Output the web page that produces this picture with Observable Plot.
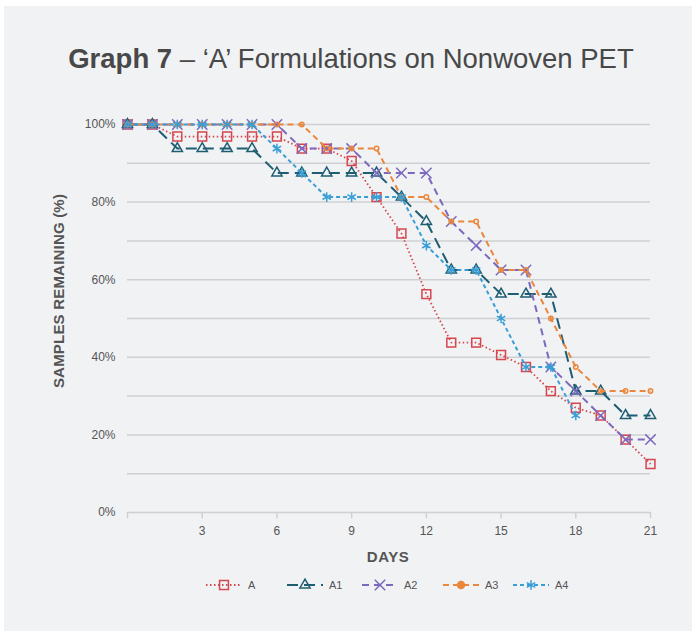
<!DOCTYPE html>
<html>
<head>
<meta charset="utf-8">
<script src="https://cdn.jsdelivr.net/npm/d3@7"></script>
<script src="https://cdn.jsdelivr.net/npm/@observablehq/plot@0.6"></script>
<style>
  html, body { margin: 0; padding: 0; background: #ffffff; }
  body { width: 692px; height: 631px; position: relative; overflow: hidden;
         font-family: "Liberation Sans", Arial, Helvetica, sans-serif; }
  #panel { position: absolute; left: 4px; top: 6px; right: 0; bottom: 0; background: #f1f2f4; }
  #title { position: absolute; left: 0; width: 702px; top: 43px; text-align: center;
           font-size: 27.5px; color: #484848; white-space: nowrap; }
  #title b { font-weight: bold; }
  #chart { position: absolute; left: 0; top: 100px; }
  #ylab { position: absolute; left: 58px; top: 291px; transform: translate(-50%, -50%) rotate(-90deg);
          font-size: 15px; font-weight: bold; color: #555; white-space: nowrap; letter-spacing: 0.2px; }
  #xlab { position: absolute; left: 388px; top: 556px; transform: translate(-50%, -50%);
          font-size: 15px; font-weight: bold; color: #555; letter-spacing: 0.5px; }
  .leg { position: absolute; top: 578px; height: 14px; display: flex; align-items: center;
         font-size: 11px; color: #555; }
  .leg svg { margin-right: 6px; }
</style>
</head>
<body>
<div id="panel"></div>
<div id="title"><b>Graph 7</b> – ‘A’ Formulations on Nonwoven PET</div>
<div id="chart"></div>
<div id="ylab">SAMPLES REMAINING (%)</div>
<div id="xlab">DAYS</div>
<div id="legend"></div>
<script>
// ---- data ----
const seriesNames = ["A", "A1", "A2", "A3", "A4"];
const days = [0,1,2,3,4,5,6,7,8,9,10,11,12,13,14,15,16,17,18,19,20,21];
const valuesA  = [100,100,96.9,96.9,96.9,96.9,96.9,93.8,93.8,90.6,81.3,71.9,56.3,43.8,43.8,40.6,37.5,31.3,27,25,18.8,12.5];
const valuesA1 = [100,100,93.8,93.8,93.8,93.8,87.5,87.5,87.5,87.5,87.5,81.3,75,62.5,62.5,56.3,56.3,56.3,31.3,31.3,25,25];
const valuesA2 = [100,100,100,100,100,100,100,93.8,93.8,93.8,87.5,87.5,87.5,75,68.8,62.5,62.5,37.5,31.3,25,18.8,18.8];
const valuesA3 = [100,100,100,100,100,100,100,100,93.8,93.8,93.8,81.3,81.3,75,75,62.5,62.5,50,37.5,31.3,31.3,31.3];
const valuesA4 = [100,100,100,100,100,100,93.8,87.5,81.3,81.3,81.3,81.3,68.8,62.5,62.5,50,37.5,37.5,25];
const yTickValues = [0,20,40,60,80,100];
const yGridValues = [10,20,30,40,50,60,70,80,90,100];
const xTickValues = [0,3,6,9,12,15,18,21];

// ---- styles ----
const styles = {
  A:  {color: "#d5464e", dash: "1.5,2.5", width: 1.8, symbol: "square",   r: 5,   fill: "none"},
  A1: {color: "#1f5e72", dash: "11,6",    width: 2,   symbol: "triangle", r: 3.8, fill: "none"},
  A2: {color: "#7c69bd", dash: "7,5",     width: 2,   symbol: "times",    r: 4.8, fill: "none"},
  A3: {color: "#ea873c", dash: "6,4",     width: 2,   symbol: "circle",   r: 2.2, fill: "none"},
  A4: {color: "#3a9ed6", dash: "4,3",     width: 2,   symbol: "asterisk", r: 4.6, fill: "none"}
};

const allValues = {A: valuesA, A1: valuesA1, A2: valuesA2, A3: valuesA3, A4: valuesA4};
const rows = [];
for (const s of seriesNames) {
  allValues[s].forEach((v, i) => rows.push({series: s, day: days[i], value: v}));
}

const marks = [
  Plot.ruleY(yGridValues, {stroke: "#cfd0d3", strokeWidth: 1.5}),
  Plot.ruleY([0], {stroke: "#cfd0d3", strokeWidth: 1.5}),
  Plot.ruleX(xTickValues, {x: d => d, y1: 0, y2: -1.6, stroke: "#cfd0d3", strokeWidth: 1.5}),
  Plot.axisY({ticks: yTickValues, tickFormat: d => d + "%", tickSize: 0, tickPadding: 12,
              fontSize: 12, color: "#555", label: null}),
  Plot.axisX({ticks: xTickValues, tickFormat: d => d === 0 ? "" : String(d), tickSize: 0,
              tickPadding: 14, fontSize: 12, color: "#555", label: null})
];
for (const s of seriesNames) {
  const st = styles[s];
  const data = rows.filter(d => d.series === s);
  marks.push(Plot.line(data, {x: "day", y: "value", stroke: st.color, strokeWidth: st.width,
                              strokeDasharray: st.dash, strokeLinecap: "butt"}));
  marks.push(Plot.dot(data, {x: "day", y: "value", symbol: st.symbol, r: st.r,
                             stroke: st.color, fill: st.fill, strokeWidth: 1.5}));
}

const chart = Plot.plot({
  width: 692,
  height: 470,
  marginLeft: 127,
  marginRight: 42,
  marginTop: 24,
  marginBottom: 58,
  style: {background: "transparent", fontFamily: "'Liberation Sans', Arial, sans-serif"},
  x: {domain: [0, 21], axis: null},
  y: {domain: [0, 100], axis: null},
  marks
});
document.getElementById("chart").appendChild(chart);

// ---- legend ----
const legPos = {A: 206, A1: 287, A2: 362, A3: 443, A4: 513};
const legend = document.getElementById("legend");
for (const s of seriesNames) {
  const st = styles[s];
  const div = document.createElement("div");
  div.className = "leg";
  div.style.left = legPos[s] + "px";
  const w = 36;
  const svg = d3.create("svg").attr("width", w).attr("height", 14);
  svg.append("line").attr("x1", 0).attr("x2", w).attr("y1", 7).attr("y2", 7)
    .attr("stroke", st.color).attr("stroke-width", st.width).attr("stroke-dasharray", st.dash);
  const symMap = {square: d3.symbolSquare, triangle: d3.symbolTriangle, times: d3.symbolTimes,
                  circle: d3.symbolCircle, asterisk: d3.symbolAsterisk};
  const rr = s === "A3" ? 3.5 : st.r;
  svg.append("path").attr("transform", `translate(${w/2},7)`)
    .attr("d", d3.symbol(symMap[st.symbol], Math.PI * rr * rr)())
    .attr("fill", s === "A3" ? st.color : "none").attr("stroke", st.color).attr("stroke-width", 1.5);
  div.appendChild(svg.node());
  const t = document.createElement("span");
  t.textContent = s;
  div.appendChild(t);
  legend.appendChild(div);
}
</script>
</body>
</html>
